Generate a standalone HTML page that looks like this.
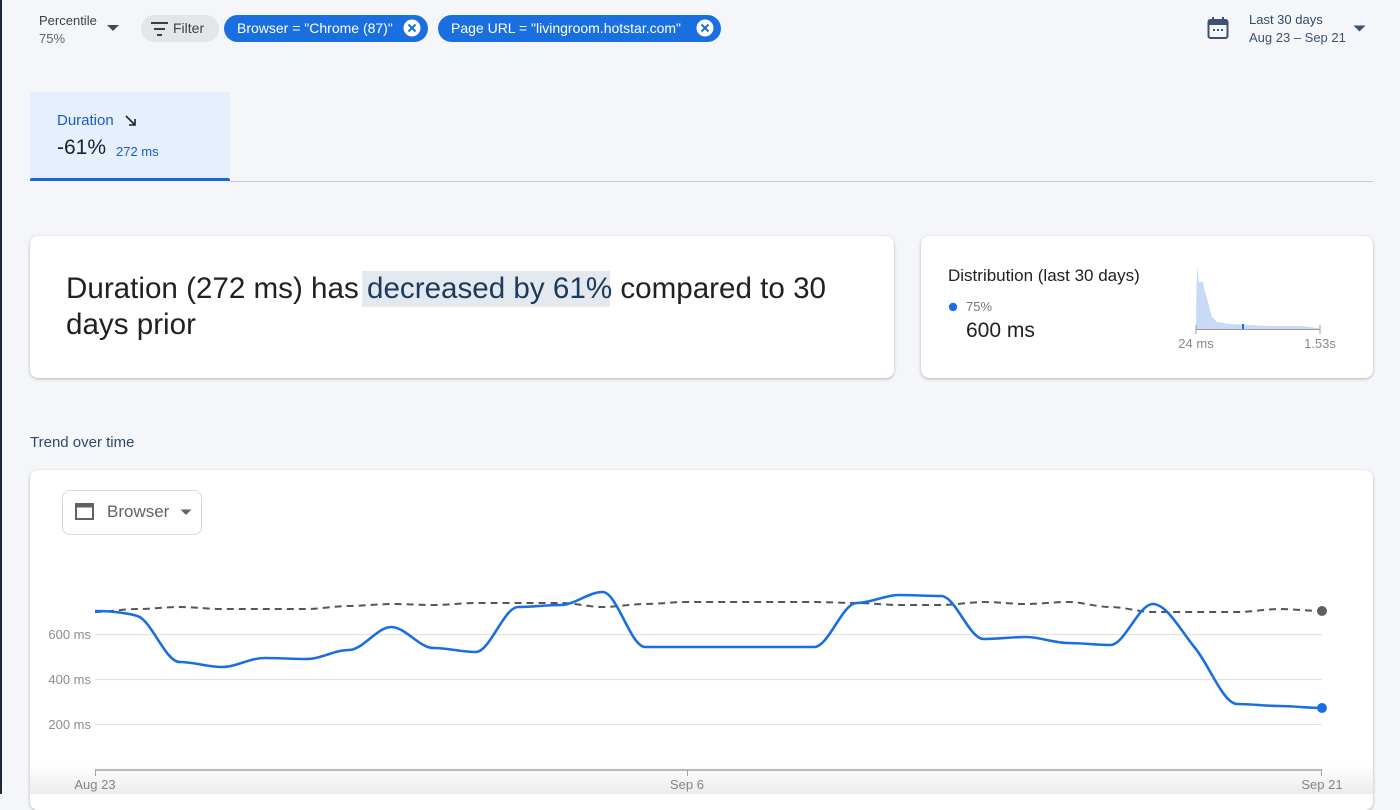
<!DOCTYPE html>
<html>
<head>
<meta charset="utf-8">
<style>
  html,body{margin:0;padding:0;}
  body{width:1400px;height:794px;overflow:hidden;background:#f4f6f9;position:relative;font-family:"Liberation Sans",Arial,sans-serif;}
  .abs{position:absolute;}
  .card{position:absolute;background:#fff;border-radius:8px;box-shadow:0 1px 3px rgba(60,64,67,0.28),0 1px 2px rgba(60,64,67,0.10);}
  .chip{position:absolute;height:27px;border-radius:14px;background:#1a6fe0;color:#fff;font-size:14px;line-height:27px;white-space:nowrap;}
</style>
</head>
<body>
<!-- left dark edge -->
<div class="abs" style="left:0;top:0;width:2px;height:794px;background:#1d2838;"></div>

<!-- Percentile -->
<div class="abs" style="left:39px;top:13px;font-size:13px;color:#3c4043;">Percentile</div>
<div class="abs" style="left:39px;top:31px;font-size:13px;color:#5f6368;">75%</div>
<svg class="abs" style="left:106px;top:24px;" width="14" height="8"><path d="M1 1 L13 1 L7 7 Z" fill="#3d4a5c"/></svg>

<!-- Filter chip -->
<div class="abs" style="left:141px;top:15px;width:78px;height:27px;border-radius:14px;background:#e3e5e8;"></div>
<svg class="abs" style="left:150px;top:20px;" width="20" height="18"><rect x="1" y="2" width="17" height="2" fill="#3c4043"/><rect x="4" y="8" width="11" height="2" fill="#3c4043"/><rect x="7" y="14" width="5" height="2" fill="#3c4043"/></svg>
<div class="abs" style="left:173px;top:20px;font-size:14px;color:#3c4043;">Filter</div>

<!-- Browser chip -->
<div class="chip" style="left:224px;top:15px;width:204px;"><span style="position:absolute;left:13px;">Browser = "Chrome (87)"</span></div>
<svg class="abs" style="left:403px;top:19px;" width="18" height="18"><circle cx="9" cy="9" r="8.5" fill="#fff"/><path d="M5.5 5.5 L12.5 12.5 M12.5 5.5 L5.5 12.5" stroke="#1a6fe0" stroke-width="2"/></svg>

<!-- Page URL chip -->
<div class="chip" style="left:438px;top:15px;width:283px;"><span style="position:absolute;left:13px;">Page URL = "livingroom.hotstar.com"</span></div>
<svg class="abs" style="left:696px;top:19px;" width="18" height="18"><circle cx="9" cy="9" r="8.5" fill="#fff"/><path d="M5.5 5.5 L12.5 12.5 M12.5 5.5 L5.5 12.5" stroke="#1a6fe0" stroke-width="2"/></svg>

<!-- Date selector -->
<svg class="abs" style="left:1206px;top:16px;" width="24" height="24"><rect x="2.5" y="4" width="19" height="18" rx="2" fill="none" stroke="#3b5270" stroke-width="2"/><rect x="2.5" y="4" width="19" height="5" fill="#3b5270"/><rect x="6" y="1" width="2" height="5" fill="#3b5270"/><rect x="16" y="1" width="2" height="5" fill="#3b5270"/><rect x="7" y="13" width="2" height="2" fill="#3b5270"/><rect x="11" y="13" width="2" height="2" fill="#3b5270"/><rect x="15" y="13" width="2" height="2" fill="#3b5270"/></svg>
<div class="abs" style="left:1249px;top:12px;font-size:13px;color:#2f4a69;">Last 30 days</div>
<div class="abs" style="left:1249px;top:30px;font-size:13px;color:#3b5270;">Aug 23 – Sep 21</div>
<svg class="abs" style="left:1353px;top:25px;" width="13" height="7"><path d="M0.5 0.5 L12.5 0.5 L6.5 6.5 Z" fill="#3b5270"/></svg>

<!-- Tab -->
<div class="abs" style="left:30px;top:92px;width:200px;height:86px;background:#e6effd;"></div>
<div class="abs" style="left:30px;top:178px;width:200px;height:3px;background:#1a64d6;border-radius:2px 2px 0 0;"></div>
<div class="abs" style="left:230px;top:181px;width:1143px;height:1px;background:#c3c9d2;"></div>
<div class="abs" style="left:57px;top:112px;font-size:15px;color:#1a5cc4;">Duration</div>
<svg class="abs" style="left:124px;top:114px;" width="14" height="14"><path d="M2 2 L11 11 M5 11 L11 11 L11 5" fill="none" stroke="#202124" stroke-width="1.6"/></svg>
<div class="abs" style="left:57px;top:136px;font-size:21px;color:#202124;">-61%</div>
<div class="abs" style="left:116px;top:144px;font-size:13px;color:#1a5cc4;">272 ms</div>

<!-- Summary card -->
<div class="card" style="left:30px;top:236px;width:864px;height:142px;"></div>
<div class="abs" style="left:362px;top:271px;width:248px;height:36px;background:#e4e9f0;"></div>
<div class="abs" style="left:66px;top:271px;width:790px;font-size:29.6px;line-height:36px;color:#202124;">Duration (272 ms) has <span style="color:#1b3a5c;">decreased by 61%</span> compared to 30 days prior</div>

<!-- Distribution card -->
<div class="card" style="left:921px;top:236px;width:452px;height:142px;"></div>
<div class="abs" style="left:948px;top:266px;font-size:17px;color:#202124;">Distribution (last 30 days)</div>
<svg class="abs" style="left:948px;top:302px;" width="10" height="10"><circle cx="5" cy="5" r="4.2" fill="#1a6fe0"/></svg>
<div class="abs" style="left:966px;top:299px;font-size:13px;color:#777;">75%</div>
<div class="abs" style="left:966px;top:319px;font-size:21px;color:#202124;">600 ms</div>
<svg class="abs" style="left:1180px;top:255px;" width="180" height="100">
  <path d="M16 74 L16.5 30 L17.3 11.7 L19 27 L23 27 L24 33 L28 47 L32 62 L37 67 L50 69 L90 71 L123 71 L137 73 L140 74 Z" fill="#c8daf6"/>
  <line x1="16" y1="74.5" x2="140" y2="74.5" stroke="#9a9a9a" stroke-width="1"/>
  <line x1="16" y1="70" x2="16" y2="79" stroke="#9a9a9a" stroke-width="1"/>
  <line x1="140" y1="70" x2="140" y2="79" stroke="#9a9a9a" stroke-width="1"/>
  <rect x="62" y="69" width="2" height="5" fill="#1a6fe0"/>
</svg>
<div class="abs" style="left:1166px;top:336px;width:60px;text-align:center;font-size:13px;color:#888;">24 ms</div>
<div class="abs" style="left:1290px;top:336px;width:60px;text-align:center;font-size:13px;color:#888;">1.53s</div>

<!-- Trend -->
<div class="abs" style="left:30px;top:434px;font-size:15px;color:#2f4a69;">Trend over time</div>
<div class="card" style="left:30px;top:470px;width:1343px;height:340px;"></div>

<!-- Browser dropdown -->
<div class="abs" style="left:62px;top:490px;width:138px;height:43px;border:1px solid #d6d8db;border-radius:8px;background:#fff;"></div>
<svg class="abs" style="left:74px;top:502px;" width="22" height="20"><rect x="2" y="2" width="17" height="15" fill="none" stroke="#5f6368" stroke-width="2"/><rect x="2" y="2" width="17" height="3.5" fill="#5f6368"/></svg>
<div class="abs" style="left:107px;top:502px;font-size:17px;color:#5f6368;">Browser</div>
<svg class="abs" style="left:180px;top:509px;" width="12" height="7"><path d="M0.5 0.5 L11.5 0.5 L6 6 Z" fill="#5f6368"/></svg>

<!-- Chart -->
<svg class="abs" style="left:0;top:0;" width="1400" height="794">
  <g stroke="#e2e2e2" stroke-width="1.3">
    <line x1="95" y1="634.5" x2="1322" y2="634.5"/>
    <line x1="95" y1="679.5" x2="1322" y2="679.5"/>
    <line x1="95" y1="724.5" x2="1322" y2="724.5"/>
  </g>
  <g font-family="Liberation Sans, Arial, sans-serif" font-size="13" fill="#8c8c8c" text-anchor="end">
    <text x="91" y="639">600 ms</text>
    <text x="91" y="684">400 ms</text>
    <text x="91" y="729">200 ms</text>
  </g>
  <line x1="95" y1="770" x2="1322" y2="770" stroke="#a6a6a6" stroke-width="1.5"/>
  <g stroke="#a6a6a6" stroke-width="1">
    <line x1="95.5" y1="770" x2="95.5" y2="776"/>
    <line x1="687.5" y1="770" x2="687.5" y2="776"/>
    <line x1="1321.5" y1="770" x2="1321.5" y2="776"/>
  </g>
  <g font-family="Liberation Sans, Arial, sans-serif" font-size="13" fill="#8c8c8c" text-anchor="middle">
    <text x="95" y="789">Aug 23</text>
    <text x="687" y="789">Sep 6</text>
    <text x="1322" y="789">Sep 21</text>
  </g>
  <!-- dashed previous period -->
  <path d="M95 612 C109.1 612 123.2 609 137.3 609 S165.5 607 179.6 607 S207.8 609 221.9 609 S250.1 609 264.2 609 S292.5 609 306.6 609 S334.8 606 348.9 606 S377.1 604 391.2 604 S419.4 605 433.5 605 S461.7 603 475.8 603 S504 603 518.1 603 S546.3 603 560.4 603 S588.6 607 602.7 607 S630.9 604 645 604 S673.2 602 687.3 602 S715.6 602 729.7 602 S757.9 602 772 602 S800.2 602 814.3 602 S842.5 603 856.6 603 S884.8 605 898.9 605 S927.1 605 941.2 605 S969.4 602 983.5 602 S1011.7 604 1025.8 604 S1054 602 1068.1 602 S1096.3 607 1110.4 607 S1138.7 612 1152.8 612 S1181 612 1195.1 612 S1223.3 612 1237.4 612 S1265.6 609 1279.7 609 S1307.9 611 1322 611" fill="none" stroke="#555" stroke-width="2" stroke-dasharray="7 5"/>
  <!-- blue current -->
  <path d="M95 611 C109.1 611 123.2 612 137.3 616 C151.4 620 165.5 662 179.6 662 S207.8 667 221.9 667 S250.1 658 264.2 658 S292.5 659 306.6 659 S334.8 650 348.9 650 S377.1 627 391.2 627 S419.4 648 433.5 648 S461.7 652 475.8 652 S504 607 518.1 607 S546.3 605 560.4 605 S588.6 592 602.7 592 S630.9 647 645 647 L814.3 647 C828.4 647 842.5 603 856.6 603 S884.8 595 898.9 595 S927.1 596 941.2 596 S969.4 639 983.5 639 S1011.7 637 1025.8 637 S1054 643 1068.1 643 S1096.3 645 1110.4 645 S1138.7 604 1152.8 604 C1166.9 604 1181 631 1195.1 648 C1209.2 665 1223.3 704 1237.4 704 S1265.6 706 1279.7 706 S1307.9 708 1322 708" fill="none" stroke="#1a6fe0" stroke-width="2.6"/>
  <circle cx="1322" cy="611" r="5" fill="#5f5f5f"/>
  <circle cx="1322" cy="708" r="5" fill="#1a6fe0"/>
</svg>

<!-- bottom shade -->
<div class="abs" style="left:30px;top:764px;width:1343px;height:30px;background:linear-gradient(to bottom,rgba(0,0,0,0),rgba(0,0,0,0.08));"></div>
</body>
</html>
